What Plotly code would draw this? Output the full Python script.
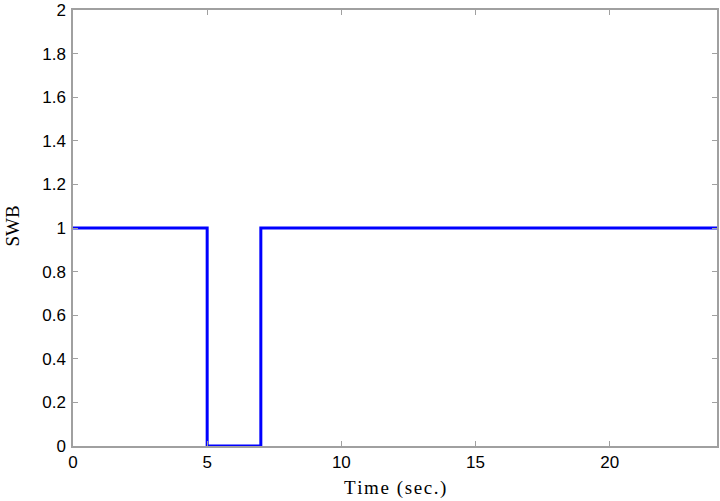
import plotly.graph_objects as go

# signal SWB : passage a 0 entre 5 s et 7 s
time_s = [0, 5, 5, 7, 7, 24]
swb = [1, 1, 0, 0, 1, 1]

x_ticks = [0, 5, 10, 15, 20]
y_ticks = [0, 0.2, 0.4, 0.6, 0.8, 1, 1.2, 1.4, 1.6, 1.8, 2]
y_labels = ["0", "0.2", "0.4", "0.6", "0.8", "1", "1.2", "1.4", "1.6", "1.8", "2"]

axis_color = "#a0a0a0"
tick_font = dict(family="Liberation Sans, Arial", size=17, color="black")
title_font = dict(family="Liberation Serif, Times New Roman", size=19, color="black")

fig = go.Figure()
fig.add_trace(go.Scatter(x=time_s, y=swb, mode="lines",
                         line=dict(color="#0000ff", width=3),
                         showlegend=False))

common = dict(ticks="inside", ticklen=5, tickcolor=axis_color,
              showline=True, linecolor=axis_color, linewidth=1.5,
              mirror="ticks", showgrid=False, zeroline=False,
              tickfont=tick_font, automargin=False)
fig.update_xaxes(range=[0, 24], tickvals=x_ticks, **common)
fig.update_yaxes(range=[0, 2], tickvals=y_ticks, ticktext=y_labels,
                 ticklabelstandoff=2, **common)

# titres des axes (police serif, legerement espacee)
hs = "\u200a"
fig.add_annotation(text=hs.join("Time (sec.)"), xref="paper", yref="paper",
                   x=0.5, y=0, xanchor="center", yanchor="top", yshift=-29,
                   showarrow=False, font=title_font)
fig.add_annotation(text="SWB", xref="paper", yref="paper",
                   x=0, y=0.5, xanchor="right", yanchor="middle",
                   xshift=-50, yshift=2, borderpad=0,
                   textangle=-90, showarrow=False, font=title_font)

fig.update_layout(width=720, height=501,
                  margin=dict(l=73, r=3, t=10, b=55),
                  plot_bgcolor="white", paper_bgcolor="white")

# pas de marge de page autour de la figure
fig.write_html("out.html", config={"displayModeBar": False},
               post_script="document.body.style.margin='0';")
